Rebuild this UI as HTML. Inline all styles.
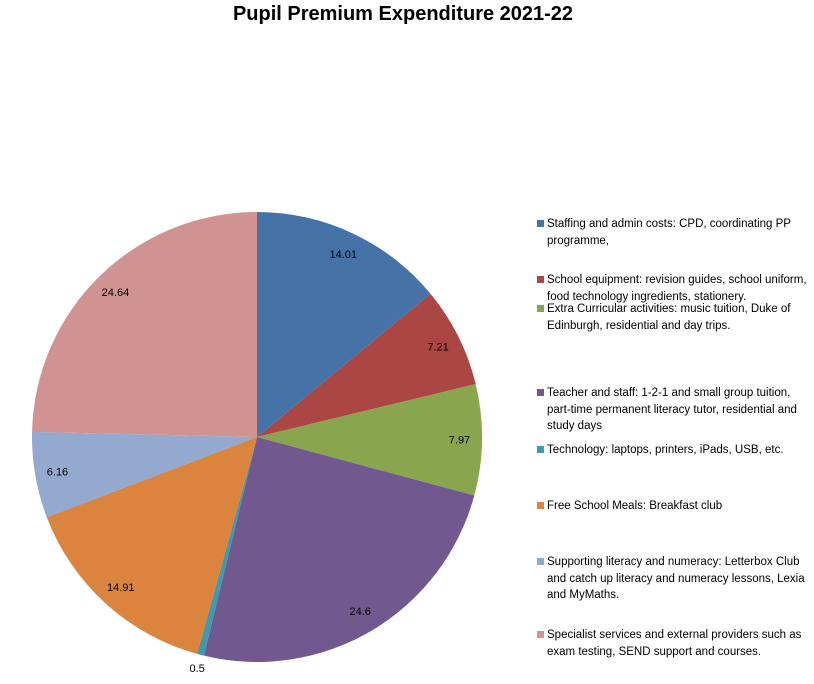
<!DOCTYPE html>
<html><head><meta charset="utf-8"><style>
body{margin:0;background:#fff;width:814px;height:684px;overflow:hidden;font-family:"Liberation Sans",sans-serif;}
#title{position:absolute;left:0;width:806px;top:3px;text-align:center;font-weight:bold;font-size:20px;color:#000;}
.leg{position:absolute;left:537px;font-size:11.5px;line-height:16.5px;color:#000;width:275px;}
.sw{position:absolute;left:0;top:4px;width:7px;height:7px;}
.lt{margin-left:10px;}
</style></head><body>
<div id="title">Pupil Premium Expenditure 2021-22</div>
<svg id="pie" width="814" height="684" style="position:absolute;left:0;top:0"></svg>
<div id="legend"></div>
<script>
const categories=["Staffing and admin costs: CPD, coordinating PP programme,","School equipment: revision guides, school uniform, food technology ingredients, stationery.","Extra Curricular activities: music tuition, Duke of Edinburgh, residential and day trips.","Teacher and staff: 1-2-1 and small group tuition, part-time permanent literacy tutor, residential and study days","Technology: laptops, printers, iPads, USB, etc.","Free School Meals: Breakfast club","Supporting literacy and numeracy: Letterbox Club and catch up literacy and numeracy lessons, Lexia and MyMaths.","Specialist services and external providers such as exam testing, SEND support and courses."];
const values=[14.01,7.21,7.97,24.6,0.5,14.91,6.16,24.64];
const valueLabels=["14.01","7.21","7.97","24.6","0.5","14.91","6.16","24.64"];
const colors=["#4572A7","#AA4643","#89A54E","#71588F","#4198AF","#DB843D","#93A9CF","#D19392"];
const legendTops=[216,272,301,385,442,498,554,627];
const cx=257,cy=437,R=225;
const svg=document.getElementById('pie');
const NS="http://www.w3.org/2000/svg";
const total=values.reduce((a,b)=>a+b,0);
function pt(a,r){return [cx+r*Math.sin(a),cy-r*Math.cos(a)];}
let acc=0;
values.forEach((v,i)=>{
 const a0=acc/total*2*Math.PI; acc+=v; const a1=acc/total*2*Math.PI;
 const p0=pt(a0,R),p1=pt(a1,R);
 const path=document.createElementNS(NS,'path');
 path.setAttribute('d',`M${cx},${cy}L${p0[0]},${p0[1]}A${R},${R} 0 ${a1-a0>Math.PI?1:0} 1 ${p1[0]},${p1[1]}Z`);
 path.setAttribute('fill',colors[i]);
 
 
 svg.appendChild(path);
});
acc=0;
values.forEach((v,i)=>{
 const am=(acc+v/2)/total*2*Math.PI; acc+=v;
 const r=v<1?R*1.06:R*0.9;
 const p=pt(am,r);
 const t=document.createElementNS(NS,'text');
 t.setAttribute('x',p[0]);t.setAttribute('y',p[1]+4);
 t.setAttribute('text-anchor','middle');t.setAttribute('font-size','11');
 t.setAttribute('font-family','Liberation Sans, sans-serif');
 t.textContent=valueLabels[i];
 
 
 svg.appendChild(t);
});
const leg=document.getElementById('legend');
categories.forEach((c,i)=>{
 const d=document.createElement('div');d.className='leg';d.style.top=legendTops[i]+'px';
 
 
 d.innerHTML='<div class="sw" style="background:'+colors[i]+'"></div><div class="lt">'+c+'</div>';
 leg.appendChild(d);
});
</script>
</body></html>
